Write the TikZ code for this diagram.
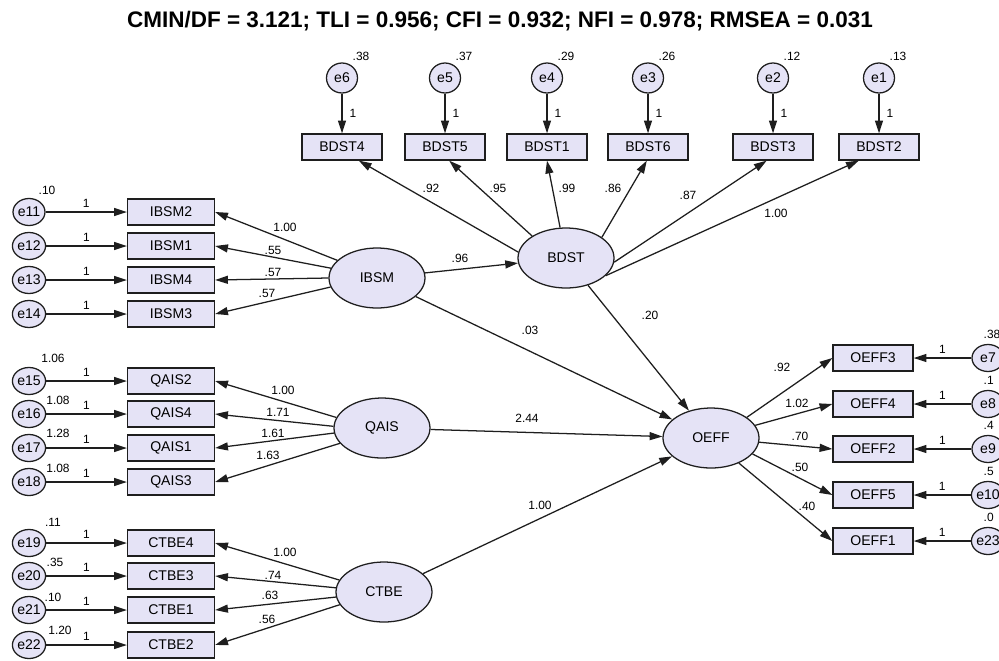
\documentclass[tikz,border=0pt]{standalone}
\usepackage{fontspec}
\setmainfont{Liberation Sans}
\usetikzlibrary{arrows.meta,shapes.geometric}
\definecolor{amosfill}{RGB}{229,227,246}
\definecolor{amosline}{RGB}{30,30,30}
\tikzset{
  obs/.style={draw=amosline, fill=amosfill, line width=0.9pt, minimum width=20mm, minimum height=6.5mm, inner sep=0pt, font=\fontsize{10}{12}\selectfont},
  obsl/.style={obs, minimum width=21.75mm},
  lat/.style={ellipse, draw=amosline, fill=amosfill, line width=0.9pt, minimum width=24mm, minimum height=15mm, inner sep=0pt, font=\fontsize{10}{12}\selectfont},
  err/.style={ellipse, draw=amosline, fill=amosfill, line width=0.9pt, minimum width=7.75mm, minimum height=7.5mm, inner sep=0pt, font=\fontsize{10}{12}\selectfont},
  errs/.style={err, minimum width=8mm, minimum height=6.75mm},
  arr/.style={draw=amosline, line width=0.9pt, -{Triangle[length=3.2mm,width=2mm]}},
  lbl/.style={font=\fontsize{8.5}{10}\selectfont, inner sep=1pt},
}
\begin{document}
\begin{tikzpicture}[x=0.25mm, y=-0.25mm]
  \useasboundingbox (0,0) rectangle (999,660);
  \clip (0,0) rectangle (999,660);
  \fill[white] (0,0) rectangle (999,660);
  \node[font=\fontsize{16}{19}\selectfont\bfseries] (fit) at (500,21) {CMIN/DF = 3.121; TLI = 0.956; CFI = 0.932; NFI = 0.978; RMSEA = 0.031};

  % latent variables
  \node[lat] (BDST) at (566,258) {BDST};
  \node[lat] (IBSM) at (377,278) {IBSM};
  \node[lat] (QAIS) at (382,428) {QAIS};
  \node[lat] (CTBE) at (384,592) {CTBE};
  \node[lat] (OEFF) at (711,438) {OEFF};

  % BDST indicators
  \foreach \nm/\e/\x/\v/\ld/\lx/\ly/\a/\b in {BDST4/e6/342/.38/.92/431/188/173/-39, BDST5/e5/445/.37/.95/498/188/147/-73,
      BDST1/e4/547/.29/.99/567/188/101/-90, BDST6/e3/648/.26/.86/613/188/30/-95, BDST3/e2/773/.12/.87/688/195/-5/-115,
      BDST2/e1/879/.13/1.00/776/213/-24/-146}{
    \node[obs] (\nm) at (\x,147) {\nm};
    \node[err] (\e) at (\x,78) {\e};
    \node[lbl, anchor=west] (v\e) at (\x+9,56) {\v};
    \draw[arr] (\e) -- node[lbl, right=4pt] (one\e) {1} (\nm);
    \draw[arr] (BDST.\a) -- (\nm.\b);
    \node[lbl] (ld\nm) at (\lx,\ly) {\ld};
  }

  % left indicators
  \foreach \lt/\i/\nm/\y/\ld/\lx/\ly/\a in {IBSM/11/IBSM2/212/1.00/285/227/156, IBSM/12/IBSM1/246/.55/273/250/168,
      IBSM/13/IBSM4/280/.57/273/272/180, IBSM/14/IBSM3/314/.57/267/293/191,
      QAIS/15/QAIS2/381/1.00/283/390/167, QAIS/16/QAIS4/414/1.71/278/412/178,
      QAIS/17/QAIS1/448/1.61/273/433/186, QAIS/18/QAIS3/482/1.63/268/455/200,
      CTBE/19/CTBE4/543/1.00/285/552/165, CTBE/20/CTBE3/576/.74/273/575/175,
      CTBE/21/CTBE1/610/.63/270/595/186, CTBE/22/CTBE2/645/.56/267/619/196}{
    \node[obsl] (\nm) at (171,\y) {\nm};
    \node[errs] (e\i) at (29,\y) {e\i};
    \draw[arr] (e\i) -- node[lbl, above=2pt] (one\i) {1} (\nm);
    \draw[arr] (\lt.\a) -- (\nm.east);
    \node[lbl] (ld\nm) at (\lx,\ly) {\ld};
  }
  \foreach \i/\v/\vx/\vy in {11/.10/47/190, 15/1.06/53/358, 16/1.08/58/400, 17/1.28/58/433, 18/1.08/58/468,
      19/.11/53/522, 20/.35/55/562, 21/.10/53/597, 22/1.20/60/630}
    \node[lbl] (ve\i) at (\vx,\vy) {\v};

  % OEFF indicators
  \foreach \i/\nm/\y/\v/\ld/\lx/\ly/\a in {7/OEFF3/358/.38/.92/782/367/30, 8/OEFF4/404/.1/1.02/797/403/16,
      9/OEFF2/449/.4/.70/800/436/-5, 10/OEFF5/495/.5/.50/800/467/-21, 23/OEFF1/541/.0/.40/807/506/-42}{
    \node[obs] (\nm) at (873,\y) {\nm};
    \node[errs] (e\i) at (988,\y) {e\i};
    \node[lbl, anchor=west] (ve\i) at (982,\y-24) {\v};
    \draw[arr] (e\i) -- node[lbl, above=2pt] (one\i) {1} (\nm);
    \draw[arr] (OEFF.\a) -- (\nm.west);
    \node[lbl] (ld\nm) at (\lx,\ly) {\ld};
  }

  % structural paths
  \draw[arr] (IBSM) -- (BDST);
  \draw[arr] (IBSM) -- (OEFF);
  \draw[arr] (BDST) -- (OEFF);
  \draw[arr] (QAIS) -- (OEFF);
  \draw[arr] (CTBE) -- (OEFF);
  \node[lbl] (pib) at (460,258) {.96};
  \node[lbl] (pio) at (530,330) {.03};
  \node[lbl] (pbo) at (650,315) {.20};
  \node[lbl] (pqo) at (527,418) {2.44};
  \node[lbl] (pco) at (540,505) {1.00};
\end{tikzpicture}
\end{document}
